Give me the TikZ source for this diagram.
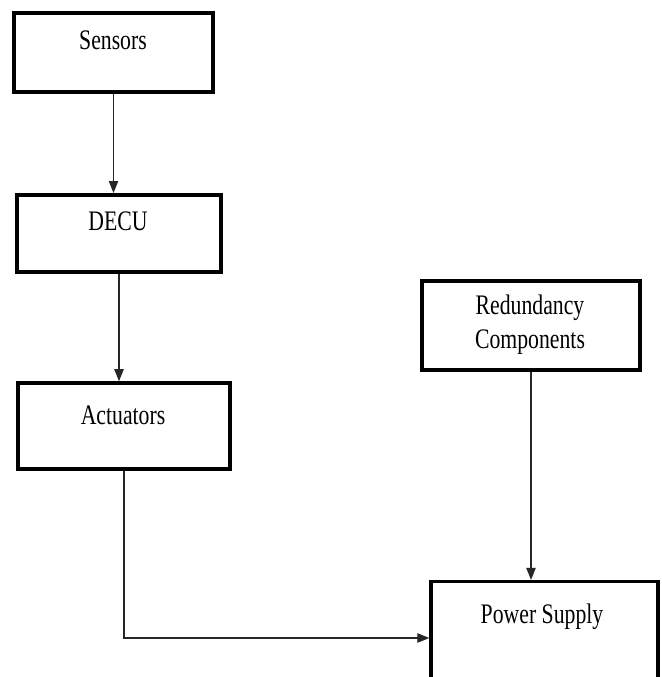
\documentclass[tikz,border=0pt]{standalone}
\usepackage{fontspec}
\setmainfont{Liberation Serif}
\usepackage{graphicx}
\usetikzlibrary{arrows.meta}
\newcommand{\tallword}[1]{\scalebox{1}[1.3]{#1}}
\begin{document}
\begin{tikzpicture}[x=0.75pt,y=-0.75pt,
  blockbox/.style={draw, line width=2.7pt, fill=white, inner sep=0pt},
  blocktext/.style={font=\fontsize{16.3}{19}\selectfont, inner sep=0pt, align=center},
  conn/.style={draw=black!85, line width=0.9pt, -{Triangle[length=9pt,width=7pt]}}]
\path[use as bounding box, clip] (0,0) rectangle (661,677);
\fill[white] (0,0) rectangle (661,677);
\node[blockbox, minimum width=149pt, minimum height=59pt] (sensors) at (113.5,52.5){};
\node[blocktext] (sensorsTxt) at (113,40){\tallword{Sensors}};
\node[blockbox, minimum width=153pt, minimum height=58pt] (decu) at (119,233.5){};
\node[blocktext] (decuTxt) at (118,221){\tallword{DECU}};
\node[blockbox, minimum width=159pt, minimum height=64.5pt] (act) at (124,426){};
\node[blocktext] (actTxt) at (123,415){\tallword{Actuators}};
\node[blockbox, minimum width=163.5pt, minimum height=67pt] (red) at (531,325.5){};
\node[blocktext] (redTxt) at (530,325){\tallword{\begin{tabular}{c}Redundancy\\[1pt]Components\end{tabular}}};
\node[blockbox, minimum width=170pt, minimum height=104pt] (power) at (544.5,651){};
\node[blocktext] (powerTxt) at (542,617){\tallword{Power Supply}};
\coordinate (bend) at (124,638);
\draw[conn] (sensors.south) -- (sensors.south |- decu.north);
\draw[conn] (decu.south) -- (decu.south |- act.north);
\draw[conn] (red.south) -- (red.south |- power.north);
\draw[conn] (act.south) -- (bend) -- (bend -| power.west);
\end{tikzpicture}
\end{document}
